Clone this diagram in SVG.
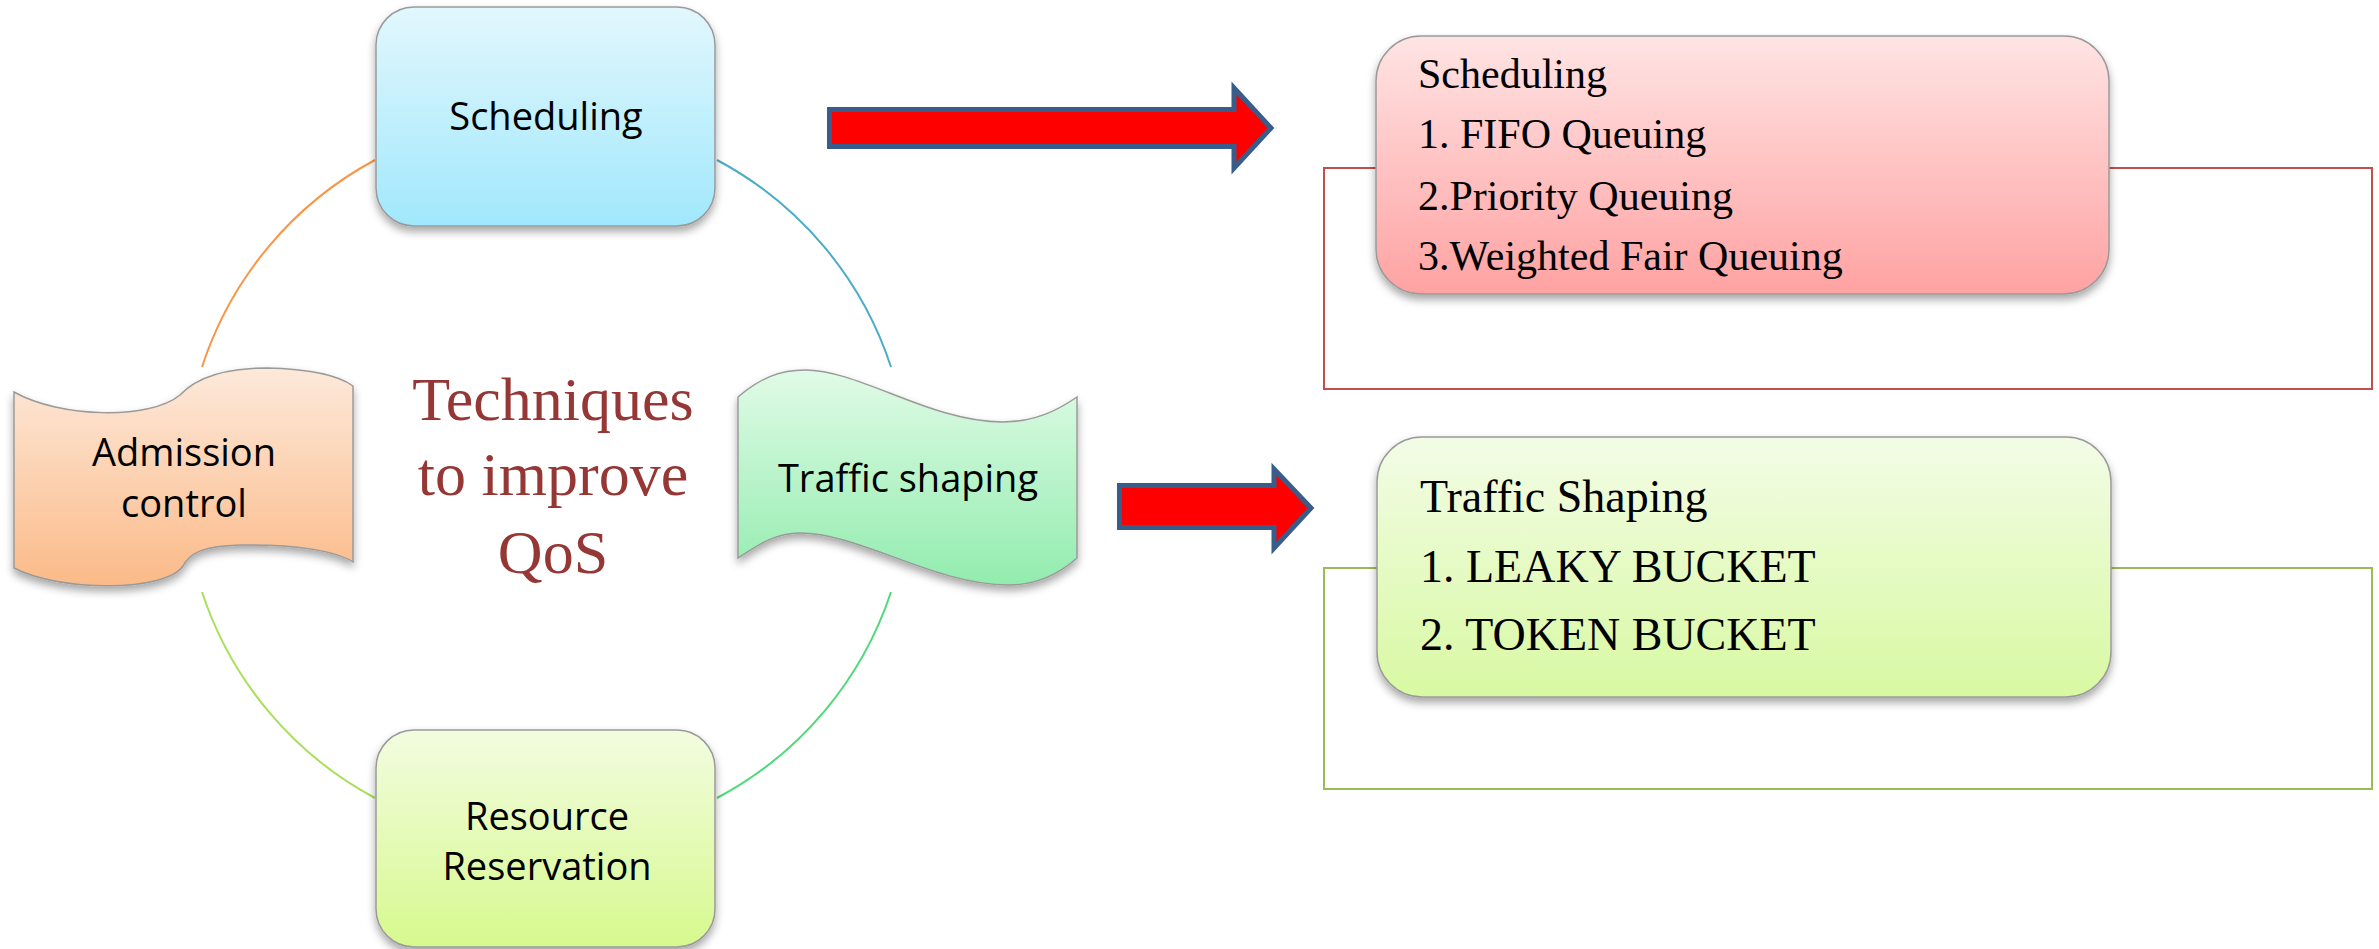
<svg xmlns="http://www.w3.org/2000/svg" width="2379" height="949" viewBox="0 0 2379 949">
  <defs>
    <linearGradient id="gBlue" x1="0" y1="0" x2="0" y2="1">
      <stop offset="0" stop-color="#E2F7FD"/>
      <stop offset="1" stop-color="#A1E8FC"/>
    </linearGradient>
    <linearGradient id="gOrange" x1="0" y1="0" x2="0" y2="1">
      <stop offset="0" stop-color="#FDE9DA"/>
      <stop offset="1" stop-color="#FBBA88"/>
    </linearGradient>
    <linearGradient id="gMint" x1="0" y1="0" x2="0" y2="1">
      <stop offset="0" stop-color="#E0FBE6"/>
      <stop offset="1" stop-color="#92ECAE"/>
    </linearGradient>
    <linearGradient id="gLime" x1="0" y1="0" x2="0" y2="1">
      <stop offset="0" stop-color="#F3FCE0"/>
      <stop offset="1" stop-color="#D6F98E"/>
    </linearGradient>
    <linearGradient id="gPink" x1="0" y1="0" x2="0" y2="1">
      <stop offset="0" stop-color="#FFE4E4"/>
      <stop offset="1" stop-color="#FFA2A2"/>
    </linearGradient>
    <linearGradient id="gLime2" x1="0" y1="0" x2="0" y2="1">
      <stop offset="0" stop-color="#F3FCE6"/>
      <stop offset="1" stop-color="#D8F9A2"/>
    </linearGradient>
    <filter id="shadow" x="-10%" y="-10%" width="120%" height="130%">
      <feDropShadow dx="0" dy="5" stdDeviation="4" flood-color="#000" flood-opacity="0.35"/>
    </filter>
  </defs>
  <style>
    .node { stroke: #9A9A9A; stroke-width: 1.5; filter: url(#shadow); }
    .lbl { font-family: "Open Sans", "Liberation Sans", sans-serif; font-size: 38px; fill: #000; text-anchor: middle; }
    .title { font-family: "Liberation Serif", "Times New Roman", serif; font-size: 62px; fill: #953735; text-anchor: middle; }
    .list1 { font-family: "Liberation Serif", "Times New Roman", serif; font-size: 42px; fill: #000; }
    .list2 { font-family: "Liberation Serif", "Times New Roman", serif; font-size: 46px; fill: #000; }
    .arc { fill: none; stroke-width: 2; }
    .arrow { fill: #FF0000; stroke: #385D8A; stroke-width: 5; stroke-linejoin: miter; }
  </style>
  <rect width="2379" height="949" fill="#FFFFFF"/>

  <g id="connectors">
    <path class="arc" stroke="#F79646" d="M375,160 A362,362 0 0,0 202,367"/>
    <path class="arc" stroke="#4BACC6" d="M717,160 A362,362 0 0,1 891,367"/>
    <path class="arc" stroke="#A8E05A" d="M202,592 A362,362 0 0,0 375,798"/>
    <path class="arc" stroke="#4FD978" d="M891,592 A362,362 0 0,1 717,798"/>
    <polygon class="arrow" points="829.5,109.5 1234,109.5 1234,88 1271,128 1234,168 1234,146.5 829.5,146.5"/>
    <polygon class="arrow" points="1119.5,485.5 1274,485.5 1274,469 1311,508 1274,548 1274,527.5 1119.5,527.5"/>
  </g>

  <g id="node-scheduling">
    <rect class="node" x="376" y="7" width="339" height="219" rx="38" fill="url(#gBlue)"/>
    <text class="lbl" x="546" y="130">Scheduling</text>
  </g>

  <g id="node-admission">
    <path class="node" fill="url(#gOrange)" d="M14,392 C60,418 150,420 180,395 C196,378 225,368 267,368 C310,369 338,375 353,386 L353,562 C338,552 300,544 240,545 C205,546 190,552 183,566 C165,592 60,592 14,568 Z"/>
    <text class="lbl" x="184" y="466">Admission</text>
    <text class="lbl" x="184" y="517">control</text>
  </g>

  <g id="node-traffic">
    <path class="node" fill="url(#gMint)" d="M738,397 C760,378 780,370 805,370 C860,370 930,422 1003,422 C1035,422 1058,410 1077,397 L1077,558 C1058,575 1035,585 1008,585 C935,585 860,533 800,533 C775,533 758,545 738,558 Z"/>
    <text class="lbl" x="908" y="492">Traffic shaping</text>
  </g>

  <g id="node-resource">
    <rect class="node" x="376" y="730" width="339" height="217" rx="38" fill="url(#gLime)"/>
    <text class="lbl" x="547" y="830">Resource</text>
    <text class="lbl" x="547" y="880">Reservation</text>
  </g>

  <g id="node-title">
    <text class="title" x="553" y="420">Techniques</text>
    <text class="title" x="553" y="495">to improve</text>
    <text class="title" x="553" y="573">QoS</text>
  </g>

  <g id="node-scheduling-detail">
    <rect x="1324" y="168" width="1048" height="221" fill="none" stroke="#C0504D" stroke-width="2"/>
    <rect class="node" x="1376" y="36" width="733" height="258" rx="45" fill="url(#gPink)"/>
    <text class="list1" x="1418" y="88">Scheduling</text>
    <text class="list1" x="1418" y="148">1. FIFO Queuing</text>
    <text class="list1" x="1418" y="210">2.Priority Queuing</text>
    <text class="list1" x="1418" y="270">3.Weighted Fair Queuing</text>
  </g>

  <g id="node-traffic-detail">
    <rect x="1324" y="568" width="1048" height="221" fill="none" stroke="#9BBB59" stroke-width="2"/>
    <rect class="node" x="1377" y="437" width="734" height="260" rx="45" fill="url(#gLime2)"/>
    <text class="list2" x="1420" y="512">Traffic Shaping</text>
    <text class="list2" x="1420" y="582">1. LEAKY BUCKET</text>
    <text class="list2" x="1420" y="650">2. TOKEN BUCKET</text>
  </g>
</svg>
